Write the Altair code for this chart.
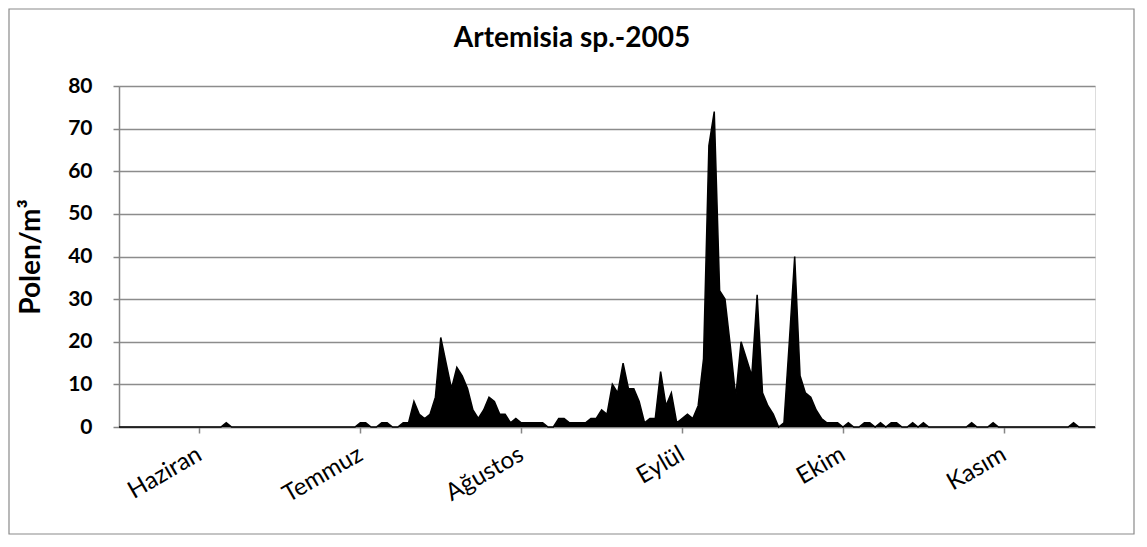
import altair as alt
import pandas as pd

# Month labels and the day index where each label's tick sits
aylar = ["Haziran", "Temmuz", "Ağustos", "Eylül", "Ekim", "Kasım"]
ay_tick_gunleri = [15, 45, 75, 105, 135, 165]

# Daily Artemisia pollen counts (Polen/m3), 1 June - 30 November 2005
haziran = [0] * 20 + [1] + [0] * 9
temmuz = [0] * 15 + [1, 1, 0, 0, 1, 1, 0, 0, 1, 1, 6, 3, 2, 3, 7, 21]
agustos = [15, 9, 14, 12, 9, 4, 2, 4, 7, 6, 3, 3, 1, 2, 1, 1, 1, 1, 1, 0,
           0, 2, 2, 1, 1, 1, 1, 2, 2, 4, 3]
eylul = [10, 8, 15, 9, 9, 6, 1, 2, 2, 13, 5, 8, 1, 2, 3, 2, 5, 16, 66, 74,
         32, 30, 19, 7, 20, 16, 12, 31, 8, 5]
ekim = [3, 0, 1, 20, 40, 12, 8, 7, 4, 2, 1, 1, 1, 0, 1, 0, 0, 1, 1, 0,
        1, 0, 1, 1, 0, 0, 1, 0, 1, 0, 0]
kasim = [0, 0, 0, 0, 0, 0, 1, 0, 0, 0, 1, 0, 0, 0, 0, 0, 0, 0, 0, 0,
         0, 0, 0, 0, 0, 1, 0, 0, 0, 0]

polen = haziran + temmuz + agustos + eylul + ekim + kasim
gun = list(range(len(polen)))

df = pd.DataFrame({"gun": gun, "polen": polen})

label_expr = "[" + ",".join("'%s'" % a for a in aylar) + "][indexof([" + \
    ",".join(str(v) for v in ay_tick_gunleri) + "], datum.value)]"

W, H = 976, 341
PAD = {"left": 111, "top": 78, "right": 40, "bottom": 108}

area = alt.Chart(df).mark_area(
    color="black",
    fill="black",
    opacity=1,
    fillOpacity=1,
    interpolate="linear",
    line={"color": "black", "strokeWidth": 1.5},
).encode(
    x=alt.X(
        "gun:Q",
        scale=alt.Scale(domain=[0, len(polen) - 1], nice=False, zero=False),
        axis=alt.Axis(
            values=ay_tick_gunleri,
            labelExpr=label_expr,
            grid=False,
            title=None,
            labelAngle=-30,
            labelAlign="right",
            labelBaseline="top",
            labelFont="Lato",
            labelFontSize=24,
            labelColor="black",
            labelPadding=9,
            labelOffset=-6,
            tickSize=6,
            tickColor="#868686",
            tickWidth=1.5,
            domainColor="#868686",
            domainWidth=1.5,
        ),
    ),
    y=alt.Y(
        "polen:Q",
        scale=alt.Scale(domain=[0, 80], nice=False),
        axis=alt.Axis(
            values=list(range(0, 81, 10)),
            title="Polen/m³",
            titleFont="Lato",
            titleFontSize=28,
            titleFontWeight="bold",
            titleColor="black",
            titleAngle=-90,
            titleAlign="center",
            titleBaseline="middle",
            titleX=-88,
            titleY=H / 2,
            labelFont="Lato",
            labelFontSize=21,
            labelFontWeight="bold",
            labelColor="black",
            labelPadding=21,
            tickSize=6,
            tickColor="#868686",
            tickWidth=1.5,
            domainColor="#868686",
            domainWidth=1.5,
            grid=True,
            gridColor="#8c8c8c",
            gridWidth=1.5,
        ),
    ),
)

frame = alt.Chart(pd.DataFrame({"k": [0]})).mark_rect(
    fill="transparent", stroke="#8a8a8a", strokeWidth=1.2
).encode(
    x=alt.value(-110), x2=alt.value(1015),
    y=alt.value(-77), y2=alt.value(448),
)

chart = alt.layer(frame, area).properties(
    width=W,
    height=H,
    padding=PAD,
    autosize=alt.AutoSizeParams(type="none"),
    title=alt.TitleParams(
        "Artemisia sp.-2005",
        font="Lato",
        fontSize=28,
        fontWeight="bold",
        color="black",
        anchor="middle",
        frame="group",
        dx=-35,
        offset=-67,
        baseline="alphabetic",
    ),
).configure_view(stroke=None).configure(background="white")

chart.save("out.html", embed_options={"renderer": "svg", "actions": False})
